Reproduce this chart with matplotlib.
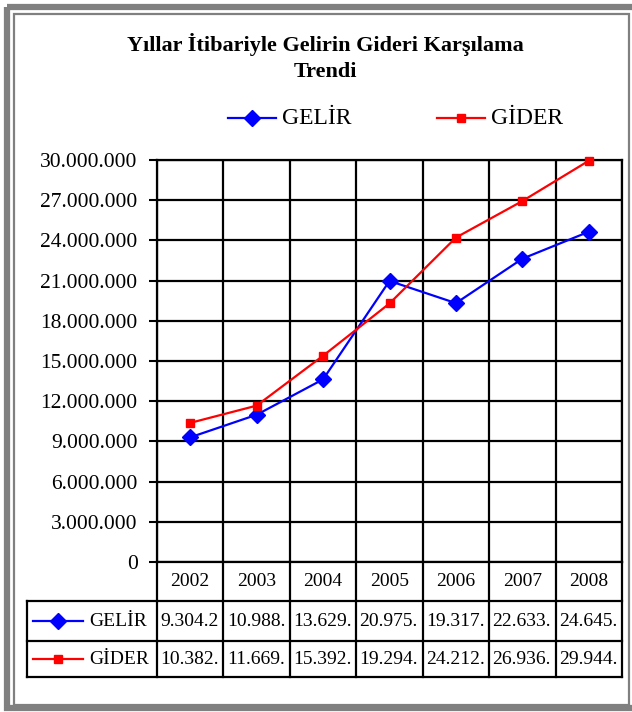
import matplotlib
matplotlib.use("Agg")

import matplotlib.pyplot as plt
import numpy as np
from matplotlib.patches import Rectangle

years = ["2002", "2003", "2004", "2005", "2006", "2007", "2008"]
gelir = [9304200, 10988000, 13629000, 20975000, 19317000, 22633000, 24645000]
gider = [10382000, 11669000, 15392000, 19294000, 24212000, 26936000, 29944000]
yticks = np.arange(0, 30000001, 3000000)

title_1 = "Yıllar İtibariyle Gelirin Gideri Karşılama"
title_2 = "Trendi"

BLUE = "#0000FF"
RED = "#FF0000"
FONT = "Liberation Serif"

W, H = 632, 712
# plot area in pixels
PL, PR, PT, PB = 157, 622, 160, 562
# table row boundaries (pixels) and left edge
ROWS = [562, 601, 641, 677]
TL = 27


def tick_fmt(v):
    return f"{int(v):,}".replace(",", ".")


def cell_fmt(v):
    # Excel cuts the text at the cell border
    return tick_fmt(v)[:7]


def main() -> None:
    fig = plt.figure(figsize=(W / 100, H / 100), dpi=100)

    # overlay in pixel coordinates for frame, title and legend
    ov = fig.add_axes([0, 0, 1, 1], zorder=0)
    ov.set_xlim(0, W)
    ov.set_ylim(H, 0)
    ov.axis("off")

    ov.add_patch(Rectangle((7, 7), W + 20, H - 11, fill=False, ec="#808080", lw=4.5))
    ov.add_patch(Rectangle((14, 13.5), 615, 691, fill=False, ec="#808080", lw=1.6))

    ov.text(325, 44, title_1, ha="center", va="center", fontsize=16,
            fontweight="bold", family=FONT)
    ov.text(325, 72, title_2, ha="center", va="center", fontsize=16,
            fontweight="bold", family=FONT)

    # top legend
    for x0, col, mk, ms, lab in [(228, BLUE, "D", 8, "GELİR"), (437, RED, "s", 5.5, "GİDER")]:
        ov.plot([x0, x0 + 48], [118, 118], color=col, lw=1.6)
        ov.plot([x0 + 24], [118], marker=mk, color=col, ms=ms, mec=col)
        ov.text(x0 + 54, 118, lab, ha="left", va="center", fontsize=17, family=FONT)

    # main chart
    ax = fig.add_axes([PL / W, (H - PB) / H, (PR - PL) / W, (PB - PT) / H], zorder=2)
    ax.patch.set_alpha(0)
    x = np.arange(len(years))
    ax.plot(x, gelir, color=BLUE, lw=1.6, marker="D", ms=8, mec=BLUE, clip_on=False, zorder=4)
    ax.plot(x, gider, color=RED, lw=1.6, marker="s", ms=5.5, mec=RED, clip_on=False, zorder=4)

    ax.set_xlim(-0.5, len(years) - 0.5)
    ax.set_ylim(0, 30000000)
    ax.set_yticks(yticks, labels=[tick_fmt(v) for v in yticks])
    ax.set_xticks([])
    ax.set_xticks(np.arange(-0.5, len(years), 1), minor=True)
    ax.tick_params(axis="y", direction="out", length=6, width=1.5, pad=8,
                   labelsize=15.5, color="black")
    ax.tick_params(axis="x", which="minor", length=0)
    for lab in ax.get_yticklabels():
        lab.set_family(FONT)
    ax.grid(True, axis="y", color="black", lw=1.6)
    ax.grid(True, axis="x", which="minor", color="black", lw=1.6)
    ax.set_axisbelow(True)
    for sp in ax.spines.values():
        sp.set_linewidth(1.6)

    # data table under the axis (x in data units, y in pixels -> axes fraction)
    tr = ax.get_xaxis_transform()

    def ay(ypx):
        return (PB - ypx) / (PB - PT)

    col_w = (PR - PL) / len(years)
    xl = -0.5 - (PL - TL) / col_w
    xr = len(years) - 0.5
    lk = dict(color="black", lw=1.6, transform=tr, clip_on=False)
    for ypx in ROWS[1:]:
        ax.plot([xl, xr], [ay(ypx)] * 2, **lk)
    for xb in np.arange(-0.5, len(years), 1):
        ax.plot([xb, xb], [ay(ROWS[0]), ay(ROWS[-1])], **lk)
    ax.plot([xl, xl], [ay(ROWS[1]), ay(ROWS[-1])], **lk)

    yc = [(ROWS[k] + ROWS[k + 1]) / 2 for k in range(3)]
    for i, yr in enumerate(years):
        ax.text(i, ay(yc[0]), yr, transform=tr, ha="center", va="center",
                fontsize=14, family=FONT)
        ax.text(i - 0.45, ay(yc[1]), cell_fmt(gelir[i]), transform=tr,
                ha="left", va="center", fontsize=14, family=FONT)
        ax.text(i - 0.45, ay(yc[2]), cell_fmt(gider[i]), transform=tr,
                ha="left", va="center", fontsize=14, family=FONT)

    # row keys in the table
    for yy, col, mk, ms, lab in [(yc[1], BLUE, "D", 8, "GELİR"), (yc[2], RED, "s", 5.5, "GİDER")]:
        ov.plot([33, 83], [yy, yy], color=col, lw=1.6)
        ov.plot([58], [yy], marker=mk, color=col, ms=ms, mec=col)
        ov.text(89, yy, lab, ha="left", va="center", fontsize=14, family=FONT)

    fig.savefig("out.png", dpi=100)
    plt.close(fig)


if __name__ == "__main__":
    main()
